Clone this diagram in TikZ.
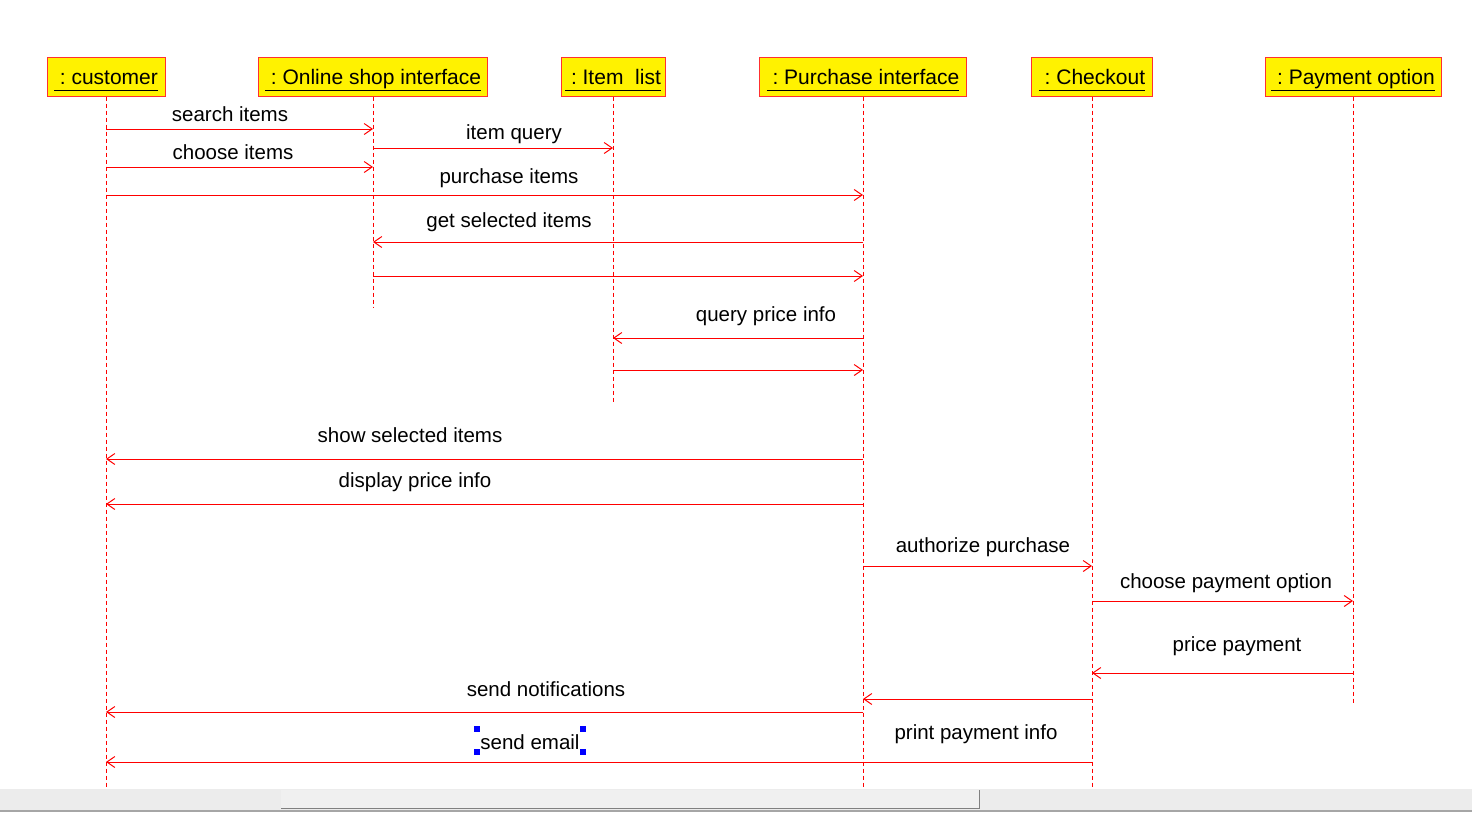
\documentclass[tikz,border=0pt]{standalone}
\usepackage{fontspec}
\setmainfont{Liberation Sans}
\usetikzlibrary{arrows.meta}
\definecolor{boxred}{HTML}{FF3030}
\definecolor{sbar}{HTML}{ECECEC}
\definecolor{thumb}{HTML}{F0F0F0}
\newcommand{\objname}[1]{\underline{\vphantom{Ipy}\ :\ #1}\ }
\begin{document}
\begin{tikzpicture}[x=1pt,y=-1pt,
  obj/.style={draw=boxred, fill=yellow, line width=1pt, minimum height=39pt, inner sep=0pt,
    text height=17pt, text depth=2pt,
    font=\fontsize{21}{24}\selectfont, anchor=center},
  life/.style={draw=red, dash pattern=on 4pt off 3pt, line width=1pt},
  msg/.style={draw=red, line width=1pt, -{Straight Barb[length=8pt,width=11pt]}},
  lbl/.style={font=\fontsize{20.5}{24}\selectfont, inner sep=0pt, anchor=center},
  handle/.style={fill=blue, draw=none, minimum size=5.5pt, inner sep=0pt}
]
\fill[white] (0,0) rectangle (1472,812);
\useasboundingbox (0,0) rectangle (1472,812);

% objects
\node[obj, minimum width=118pt] (cust) at (106,76.5) {\objname{customer}};
\node[obj, minimum width=229pt] (onl) at (373,76.5) {\objname{Online shop interface}};
\node[obj, minimum width=104pt] (item) at (613,76.5) {\objname{Item\ \ list}};
\node[obj, minimum width=207pt] (purch) at (863,76.5) {\objname{Purchase interface}};
\node[obj, minimum width=121pt] (chk) at (1092,76.5) {\objname{Checkout}};
\node[obj, minimum width=176pt] (pay) at (1353,76.5) {\objname{Payment option}};

% lifeline ends
\coordinate (custE) at (106,790);
\coordinate (onlE) at (373,308);
\coordinate (itemE) at (613,403);
\coordinate (purchE) at (863,790);
\coordinate (chkE) at (1092,790);
\coordinate (payE) at (1353,705);
\draw[life] (cust.south) -- (custE);
\draw[life] (onl.south) -- (onlE);
\draw[life] (item.south) -- (itemE);
\draw[life] (purch.south) -- (purchE);
\draw[life] (chk.south) -- (chkE);
\draw[life] (pay.south) -- (payE);

% messages
\foreach \n/\y/\a/\b in {1/129/106/373, 2/148/373/613, 3/167/106/373, 4/195/106/863,
  5/242/863/373, 6/276/373/863, 7/338/863/613, 8/370/613/863, 9/459/863/106,
  10/504/863/106, 11/566/863/1092, 12/601/1092/1353, 13/673/1353/1092,
  14/699/1092/863, 15/712/863/106, 16/762/1092/106} {
  \coordinate (m\n a) at (\a,\y);
  \coordinate (m\n b) at (\b,\y);
  \draw[msg] (m\n a) -- (m\n b);
}

% labels
\node[lbl] (l1) at (230,114) {search items};
\node[lbl] (l2) at (514,134) {item query};
\node[lbl] (l3) at (233,152) {choose items};
\node[lbl] (l4) at (509,178) {purchase items};
\node[lbl] (l5) at (509,222) {get selected items};
\node[lbl] (l7) at (766,316) {query price info};
\node[lbl] (l9) at (410,435) {show selected items};
\node[lbl] (l10) at (415,482) {display price info};
\node[lbl] (l11) at (983,547) {authorize purchase};
\node[lbl] (l12) at (1226,583) {choose payment option};
\node[lbl] (l13) at (1237,646) {price payment};
\node[lbl] (l15) at (546,689) {send notifications};
\node[lbl] (l16) at (976,734) {print payment info};
\node[lbl] (l17) at (530,742) {send email};

% selection handles
\node[handle] (h1) at (477,729) {};
\node[handle] (h2) at (583,729) {};
\node[handle] (h3) at (477,752) {};
\node[handle] (h4) at (583,752) {};

% scroll bar
\fill[sbar] (0,789) rectangle (1472,812);
\fill[thumb] (281,790) rectangle (979,808);
\draw[gray, line width=1pt] (979,790) -- (979,808) -- (281,808);
\draw[gray!70, line width=1.5pt] (0,811) -- (1472,811);
\end{tikzpicture}
\end{document}
